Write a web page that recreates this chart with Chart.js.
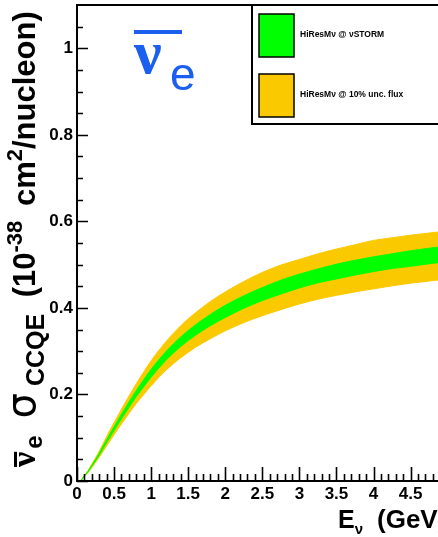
<!DOCTYPE html>
<html>
<head>
<meta charset="utf-8">
<script src="https://cdn.jsdelivr.net/npm/chart.js@4.4.1/dist/chart.umd.min.js"></script>
<style>
  html,body{margin:0;padding:0;background:#fff}
  #wrap{position:relative;width:438px;height:537px}
</style>
</head>
<body>
<div id="wrap"><canvas id="c" width="438" height="537"></canvas></div>
<script>
// neutrino energy (GeV)
const energy   = [0.05,0.1,0.15,0.2,0.3,0.4,0.5,0.6,0.7,0.8,0.9,1.0,1.2,1.4,1.6,1.8,2.0,2.25,2.5,2.75,3.0,3.25,3.5,3.75,4.0,4.25,4.5,4.75,5.0];
// sigma_CCQE bands (1e-38 cm2/nucleon)
const greenHi  = [0,0.0124,0.0228,0.0362,0.0642,0.0952,0.1252,0.1542,0.1822,0.209,0.234,0.258,0.299,0.333,0.361,0.385,0.406,0.428,0.447,0.464,0.478,0.490,0.501,0.510,0.518,0.525,0.532,0.538,0.543];
const greenLo  = [0,0.0116,0.0212,0.0338,0.0598,0.0888,0.1168,0.1438,0.1698,0.195,0.218,0.240,0.279,0.311,0.337,0.359,0.378,0.399,0.417,0.432,0.446,0.458,0.467,0.476,0.484,0.491,0.496,0.502,0.507];
const orangeHi = [0,0.0134,0.0245,0.039,0.069,0.103,0.135,0.166,0.196,0.225,0.252,0.278,0.322,0.359,0.389,0.415,0.437,0.461,0.482,0.499,0.512,0.525,0.536,0.546,0.556,0.562,0.568,0.573,0.578];
const orangeLo = [0,0.0106,0.0195,0.031,0.055,0.081,0.107,0.132,0.156,0.179,0.200,0.220,0.256,0.285,0.309,0.329,0.347,0.366,0.382,0.396,0.409,0.420,0.429,0.437,0.444,0.451,0.457,0.462,0.467];

const xTickLabels = ['0','0.5','1','1.5','2','2.5','3','3.5','4','4.5'];
const yTickLabels = ['0','0.2','0.4','0.6','0.8','1'];
const legendLabels = ['HiResM\u03bd @ \u03bdSTORM', 'HiResM\u03bd @ 10% unc. flux'];

const GREEN = '#00ff00', ORANGE = '#fbc900', BLUE = '#1a5ff0';
const SANS = '"Liberation Sans", Arial, Helvetica, sans-serif';

const pts = arr => energy.map((e,i)=>({x:e, y:arr[i]}));

function drawRuns(ctx, runs, x0, y0){
  let x = x0;
  for(const r of runs){
    ctx.font = r.font;
    ctx.fillText(r.t, x, y0 + (r.dy||0));
    const w = ctx.measureText(r.t).width;
    if(r.bar !== undefined) ctx.fillRect(x, y0 + r.bar, w, 3);
    x += w + (r.gap||0);
  }
}

const rootDecor = {
  id:'rootDecor',
  afterDraw(chart){
    const ctx = chart.ctx, xs = chart.scales.x, ys = chart.scales.y, a = chart.chartArea;
    ctx.save();
    ctx.strokeStyle = '#000'; ctx.fillStyle = '#000';

    // ticks, drawn inside the frame
    ctx.lineWidth = 1.6;
    ctx.beginPath();
    for(let i=0;i<=48;i++){
      const px = Math.round(xs.getPixelForValue(i/10)) + 0.5;
      const len = i%5===0 ? 14 : 7;
      ctx.moveTo(px, a.bottom); ctx.lineTo(px, a.bottom-len);
    }
    for(let i=0;i<=21;i++){
      const py = Math.round(ys.getPixelForValue(i/20)) + 0.5;
      const len = i%4===0 ? 11 : 6;
      ctx.moveTo(a.left, py); ctx.lineTo(a.left+len, py);
    }
    ctx.stroke();

    // frame
    ctx.lineWidth = 2;
    ctx.beginPath();
    ctx.moveTo(a.right+2, a.top); ctx.lineTo(a.left, a.top);
    ctx.lineTo(a.left, a.bottom); ctx.lineTo(a.right+2, a.bottom);
    ctx.stroke();

    // legend box
    ctx.fillStyle = '#fff';
    ctx.fillRect(253, a.top+1, 200, 118);
    ctx.beginPath();
    ctx.moveTo(252, a.top); ctx.lineTo(252, 124); ctx.lineTo(440, 124);
    ctx.stroke();
    const boxes = [[14, GREEN], [74, ORANGE]];
    ctx.lineWidth = 1.5;
    boxes.forEach(([by, col], i)=>{
      ctx.fillStyle = col; ctx.fillRect(259, by, 35, 43);
      ctx.strokeRect(259, by, 35, 43);
      ctx.fillStyle = '#000';
      ctx.font = 'bold 8.5px ' + SANS;
      ctx.textBaseline = 'middle'; ctx.textAlign = 'left';
      ctx.fillText(legendLabels[i], 300, by + 21);
    });

    // blue nu-bar e label
    ctx.fillStyle = BLUE;
    ctx.textBaseline = 'alphabetic';
    ctx.font = 'bold 62px "Liberation Serif", serif';
    ctx.fillText('\u03bd', 134, 73);
    ctx.fillRect(134, 30, 48, 4);
    ctx.font = '46px ' + SANS;
    ctx.fillText('e', 170, 90);

    // y axis title
    ctx.fillStyle = '#000';
    ctx.save();
    ctx.translate(35, 467);
    ctx.rotate(-Math.PI/2);
    const big = 'bold 31px ' + SANS, sup = 'bold 22px ' + SANS;
    drawRuns(ctx, [
      {t:'\u03bd', font:'bold 34px "Liberation Serif", serif', bar:-21, gap:3},
      {t:'e', font:'bold 24px ' + SANS, dy:7, gap:17},
      {t:'\u03c3', font:'40px "DejaVu Sans", sans-serif', gap:7},
      {t:'CCQE', font:'bold 25px ' + SANS, dy:9, gap:8},
      {t:' (10', font:big},
      {t:'-38', font:sup, dy:-13, gap:6},
      {t:' cm', font:big},
      {t:'2', font:sup, dy:-13},
      {t:'/nucleon)', font:big}
    ], 0, 0);
    ctx.restore();

    // x axis title
    drawRuns(ctx, [
      {t:'E', font:'bold 25px ' + SANS},
      {t:'\u03bd', font:'bold 15px ' + SANS, dy:6, gap:14},
      {t:'(GeV)', font:'bold 26px ' + SANS}
    ], 338, 528);

    ctx.restore();
  }
};

new Chart(document.getElementById('c'), {
  type:'line',
  data:{
    datasets:[
      {label:'greenHi', data:pts(greenHi), fill:'+1', backgroundColor:GREEN, borderColor:GREEN, borderWidth:1},
      {label:'greenLo', data:pts(greenLo), fill:false, borderColor:GREEN, borderWidth:1},
      {label:'orangeHi', data:pts(orangeHi), fill:'+1', backgroundColor:ORANGE, borderColor:ORANGE, borderWidth:1},
      {label:'orangeLo', data:pts(orangeLo), fill:false, borderColor:ORANGE, borderWidth:1}
    ]
  },
  options:{
    responsive:false, animation:false, devicePixelRatio:1,
    layout:{padding:{top:5, right:0, left:0, bottom:0}},
    elements:{point:{radius:0}, line:{cubicInterpolationMode:'monotone'}},
    plugins:{legend:{display:false}, tooltip:{enabled:false}},
    scales:{
      x:{
        type:'linear', min:0, max:4.87,
        grid:{display:false, drawTicks:false}, border:{display:false},
        ticks:{stepSize:0.5, includeBounds:false, autoSkip:false, maxRotation:0, padding:3,
          color:'#000', font:{family:SANS, size:17, weight:'bold'},
          callback:v=>{const i=Math.round(v*2); return Math.abs(v*2-i)<1e-6 && xTickLabels[i]!==undefined ? xTickLabels[i] : '';}},
        afterFit:s=>{s.height = 56; s.paddingLeft = 0; s.paddingRight = 0;}
      },
      y:{
        type:'linear', min:0, max:1.1,
        grid:{display:false, drawTicks:false}, border:{display:false},
        ticks:{stepSize:0.2, includeBounds:false, padding:4,
          color:'#000', font:{family:SANS, size:17, weight:'bold'},
          callback:v=>{const i=Math.round(v*5); return Math.abs(v*5-i)<1e-6 && yTickLabels[i]!==undefined ? yTickLabels[i] : '';}},
        afterFit:s=>{s.width = 77; s.paddingTop = 0; s.paddingBottom = 0;}
      }
    }
  },
  plugins:[rootDecor]
});
</script>
</body>
</html>
